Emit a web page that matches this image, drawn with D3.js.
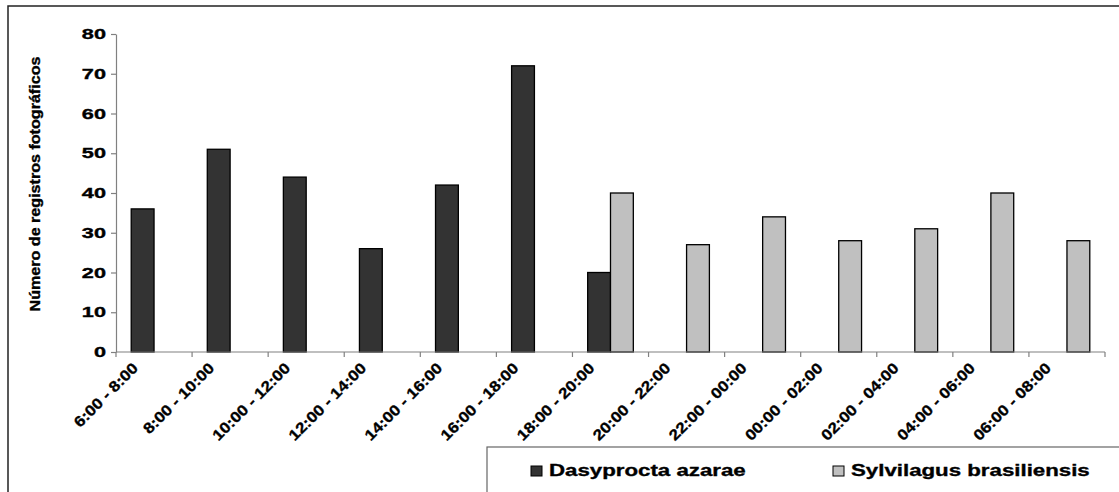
<!DOCTYPE html>
<html>
<head>
<meta charset="utf-8">
<script src="https://cdn.jsdelivr.net/npm/d3@7"></script>
<style>
  html, body { margin: 0; padding: 0; background: #fff; }
  svg { display: block; }
  text { font-family: "Liberation Sans", Arial, sans-serif; font-weight: bold; fill: #000;
         stroke: #000; stroke-width: 0.35px; }
</style>
</head>
<body>
<script>
// Time intervals (2-hour windows over a full day)
const categories = [
  "6:00 - 8:00", "8:00 - 10:00", "10:00 - 12:00", "12:00 - 14:00",
  "14:00 - 16:00", "16:00 - 18:00", "18:00 - 20:00", "20:00 - 22:00",
  "22:00 - 00:00", "00:00 - 02:00", "02:00 - 04:00", "04:00 - 06:00",
  "06:00 - 08:00"
];
const seriesNames = ["Dasyprocta azarae", "Sylvilagus brasiliensis"];
// Number of photographic records per interval
const dasyprocta = [36, 51, 44, 26, 42, 72, 20, 0, 0, 0, 0, 0, 0];
const sylvilagus = [0, 0, 0, 0, 0, 0, 40, 27, 34, 28, 31, 40, 28];
const yTicks = [0, 10, 20, 30, 40, 50, 60, 70, 80];
const seriesColors = ["#333333", "#c0c0c0"];

const W = 1119, H = 492;
const svg = d3.select("body").append("svg").attr("width", W).attr("height", H);

// Outer chart frame (runs off the right and bottom edges)
svg.append("rect")
  .attr("x", 8).attr("y", 6).attr("width", W + 20).attr("height", H + 20)
  .attr("fill", "none").attr("stroke", "#222").attr("stroke-width", 1.5);

const plotLeft = 116, plotRight = 1105, plotTop = 34, plotBottom = 352;

const x0 = d3.scaleBand().domain(categories).range([plotLeft, plotRight]).padding(0);
const x1 = d3.scaleBand().domain(seriesNames)
  .range([x0.bandwidth() * 0.2, x0.bandwidth() * 0.8]).padding(0);
const y = d3.scaleLinear().domain([0, 80]).range([plotBottom, plotTop]);

const rows = categories.map((c, i) => ({
  cat: c,
  vals: [
    { name: seriesNames[0], v: dasyprocta[i], color: seriesColors[0] },
    { name: seriesNames[1], v: sylvilagus[i], color: seriesColors[1] }
  ]
}));

// Bars
const groups = svg.append("g").selectAll("g").data(rows).join("g")
  .attr("transform", d => `translate(${x0(d.cat)},0)`);
groups.selectAll("rect").data(d => d.vals.filter(v => v.v > 0)).join("rect")
  .attr("x", d => x1(d.name))
  .attr("width", x1.bandwidth())
  .attr("y", d => y(d.v))
  .attr("height", d => y(0) - y(d.v))
  .attr("fill", d => d.color)
  .attr("stroke", "#000")
  .attr("stroke-width", 1.3);

// Y axis
const yAxis = svg.append("g").attr("transform", `translate(${plotLeft},0)`)
  .call(d3.axisLeft(y).tickValues(yTicks).tickSize(5).tickSizeOuter(0).tickFormat(""));
yAxis.select(".domain").attr("stroke", "#808080").attr("stroke-width", 1.2);
yAxis.selectAll(".tick line").attr("stroke", "#808080").attr("stroke-width", 1.2);

svg.append("g").selectAll("text").data(yTicks).join("text")
  .attr("text-anchor", "end")
  .attr("font-size", 14)
  .attr("transform", d => `translate(106,${y(d) + 5}) scale(1.55,1)`)
  .text(d => d);

// X axis with ticks at band edges
const xAxisG = svg.append("g").attr("transform", `translate(0,${plotBottom})`);
xAxisG.append("line")
  .attr("x1", plotLeft).attr("x2", plotRight)
  .attr("stroke", "#808080").attr("stroke-width", 1.2);
const edges = categories.map(c => x0(c)).concat([plotRight]);
xAxisG.selectAll("line.tk").data(edges).join("line")
  .attr("class", "tk")
  .attr("x1", d => d).attr("x2", d => d)
  .attr("y1", 0).attr("y2", 5)
  .attr("stroke", "#808080").attr("stroke-width", 1.2);

svg.append("g").selectAll("text").data(categories).join("text")
  .attr("text-anchor", "end")
  .attr("font-size", 15)
  .attr("transform", d => `translate(${x0(d) + x0.bandwidth() / 2 - 15},${plotBottom + 17}) rotate(-45) scale(1.14,1)`)
  .text(d => d);

// Y axis title
svg.append("text")
  .attr("text-anchor", "middle")
  .attr("font-size", 14)
  .attr("transform", "translate(40,184) rotate(-90) scale(1.15,1)")
  .text("Número de registros fotográficos");

// Legend
svg.append("rect")
  .attr("x", 487).attr("y", 447).attr("width", 700).attr("height", 100)
  .attr("fill", "#fff").attr("stroke", "#666").attr("stroke-width", 1.2);

const legendItems = [
  { name: seriesNames[0], color: seriesColors[0], sx: 531, tx: 549 },
  { name: seriesNames[1], color: seriesColors[1], sx: 833, tx: 851 }
];
const lg = svg.append("g").selectAll("g").data(legendItems).join("g");
lg.append("rect")
  .attr("x", d => d.sx).attr("y", 466)
  .attr("width", 11).attr("height", 10)
  .attr("fill", d => d.color).attr("stroke", "#000").attr("stroke-width", 1);
lg.append("text")
  .attr("font-size", 17)
  .attr("transform", d => `translate(${d.tx},476) scale(1.31,1)`)
  .text(d => d.name);
</script>
</body>
</html>
